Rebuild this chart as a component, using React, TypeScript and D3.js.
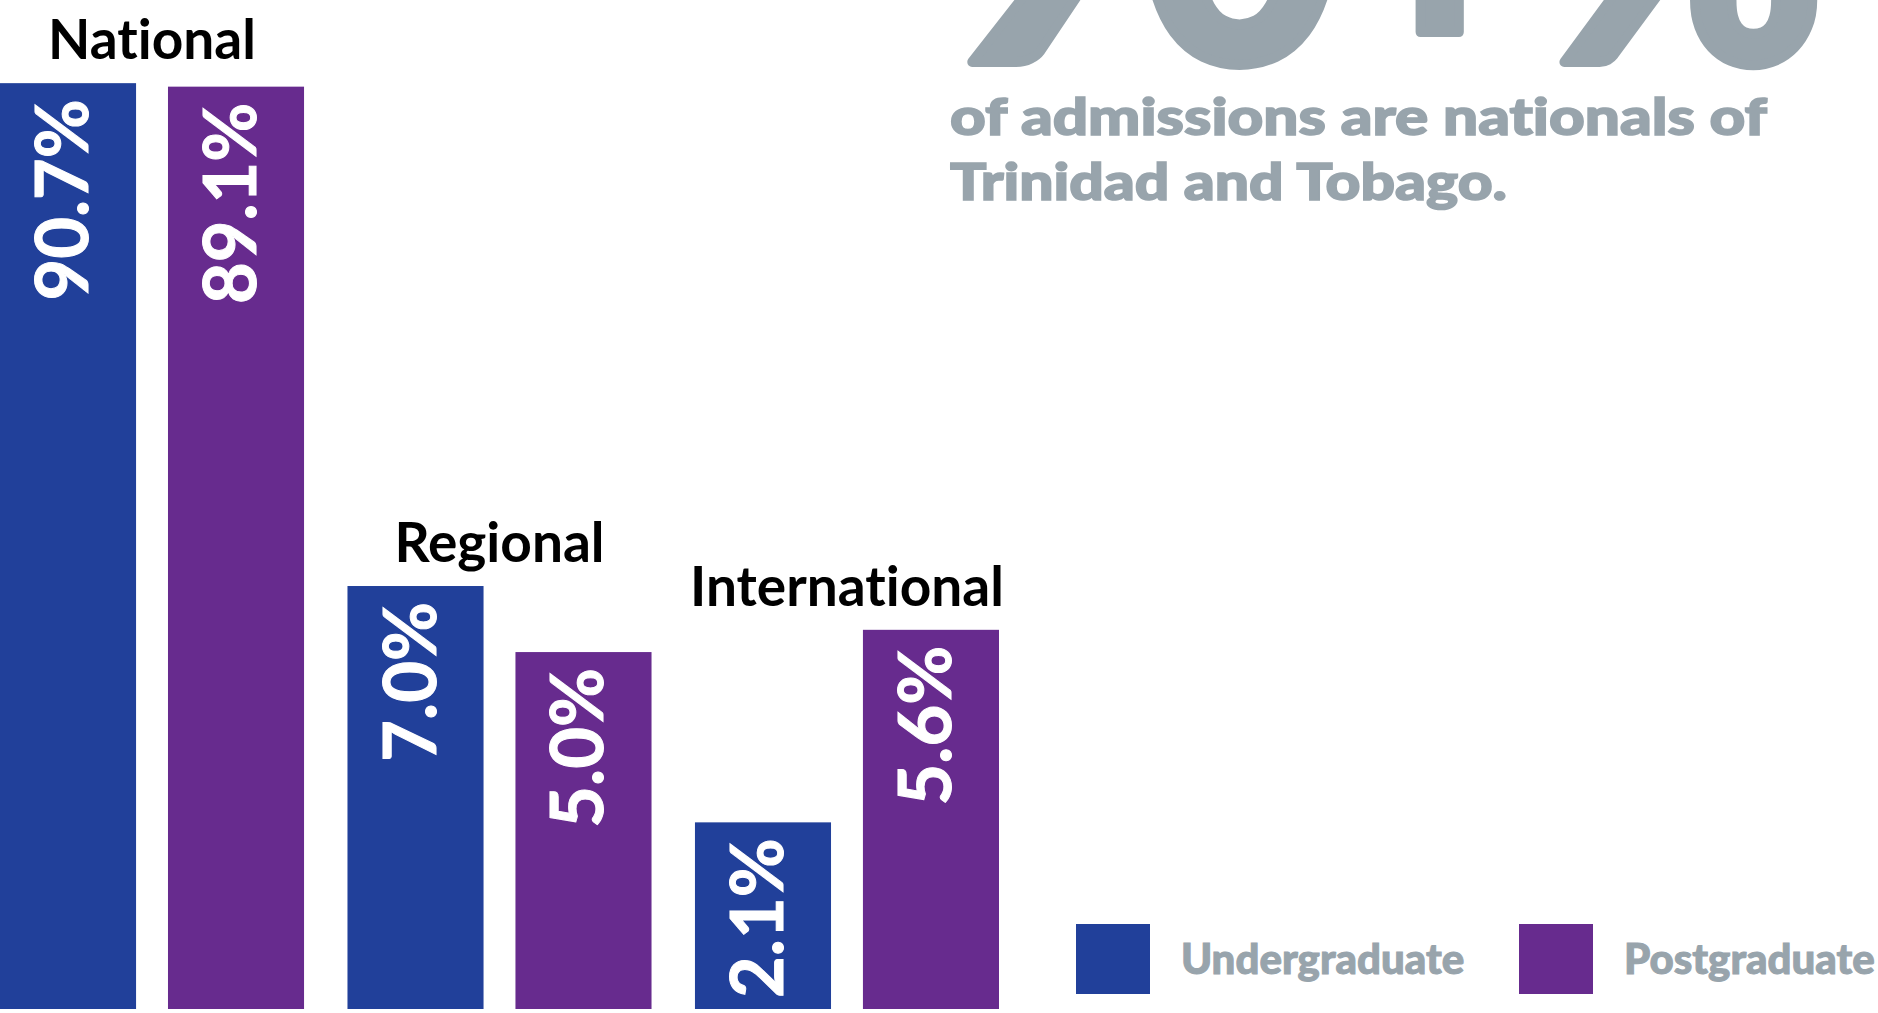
import React from 'react';
import * as d3 from 'd3';

// --- data ---
const categories = ['National', 'Regional', 'International'];
const series = ['Undergraduate', 'Postgraduate'];
const undergraduate = [90.7, 7.0, 2.1];
const postgraduate = [89.1, 5.0, 5.6];
const seriesColors = ['#21409A', '#672B8E'];
const headline = '90+%';
const subtitleLines = ['of admissions are nationals of', 'Trinidad and Tobago.'];
const subtitleWidths = [817, 557];

const W = 1878;
const H = 1013;
const GRAY = '#98A4AC';
const FONT = 'Lato, "Open Sans", sans-serif';
const noLig = { fontVariantLigatures: 'none' as const };

const baseline = 1009;

const App: React.FC = () => {
  const values = [undergraduate, postgraduate];

  const x0 = d3.scaleBand<string>().domain(categories).range([0, 999]).paddingInner(0.125);
  const x1 = d3.scaleBand<string>().domain(series).range([0, x0.bandwidth()]).paddingInner(0.19);
  // bars in the original are not linear; a log scale gets close
  const y = d3.scaleLog().domain([1, 100]).range([baseline - 41, baseline - 945]);

  const legendX = d3.scaleOrdinal<string, number>().domain(series).range([1076, 1519]);

  return (
    <svg width={W} height={H} style={{ position: 'absolute', left: 0, top: 0, display: 'block' }}>
      <rect width={W} height={H} fill="#fff" />

      {/* headline */}
      <text
        x={940}
        y={62}
        fill={GRAY}
        stroke={GRAY}
        strokeWidth={10}
        strokeLinejoin="round"
        fontFamily={FONT}
        fontWeight={900}
        fontSize={360}
        textLength={885}
        lengthAdjust="spacingAndGlyphs"
        style={noLig}
      >
        {headline}
      </text>
      {subtitleLines.map((line, i) => (
        <text
          key={i}
          x={950}
          y={135 + i * 65}
          fill={GRAY}
          stroke={GRAY}
          strokeWidth={1.6}
          fontFamily={FONT}
          fontWeight={900}
          fontSize={52}
          textLength={subtitleWidths[i]}
          lengthAdjust="spacingAndGlyphs"
          style={noLig}
        >
          {line}
        </text>
      ))}

      {/* bars */}
      {categories.map((cat, ci) => {
        const gx = x0(cat) || 0;
        const tops = series.map((s, si) => y(values[si][ci]));
        const labelY = Math.min(...tops) - 24;
        return (
          <g key={cat} transform={`translate(${gx},0)`}>
            {series.map((s, si) => {
              const v = values[si][ci];
              const bx = x1(s) || 0;
              const top = y(v);
              const cx = bx + x1.bandwidth() / 2;
              return (
                <g key={s}>
                  <rect x={bx} y={top} width={x1.bandwidth()} height={baseline - top} fill={seriesColors[si]} />
                  <text
                    transform={`translate(${cx + 20},${top + 16}) rotate(-90)`}
                    textAnchor="end"
                    fill="#fff"
                    stroke="#fff"
                    strokeWidth={1}
                    fontFamily={FONT}
                    fontWeight={700}
                    fontSize={72}
                  >
                    {v.toFixed(1) + '%'}
                  </text>
                </g>
              );
            })}
            <text
              x={x0.bandwidth() / 2}
              y={labelY}
              textAnchor="middle"
              fill="#000"
              fontFamily={FONT}
              fontWeight={700}
              fontSize={55}
              style={noLig}
            >
              {cat}
            </text>
          </g>
        );
      })}

      {/* legend */}
      {series.map((s, si) => (
        <g key={s} transform={`translate(${legendX(s)},924)`}>
          <rect width={74} height={70} fill={seriesColors[si]} />
          <text
            x={105}
            y={50}
            fill={GRAY}
            stroke={GRAY}
            strokeWidth={1}
            fontFamily={FONT}
            fontWeight={900}
            fontSize={42}
          >
            {s}
          </text>
        </g>
      ))}
    </svg>
  );
};

export default App;
